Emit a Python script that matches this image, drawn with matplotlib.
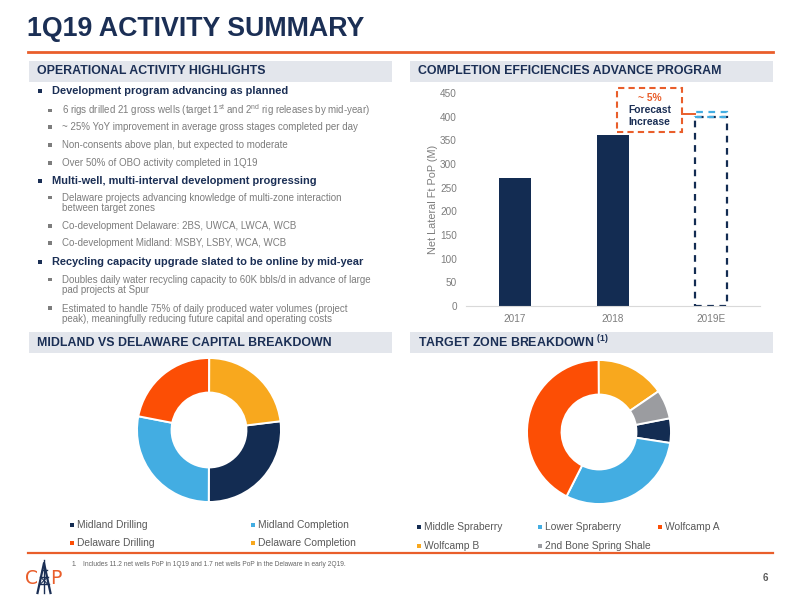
import matplotlib
matplotlib.use("Agg")
import matplotlib.pyplot as plt
from matplotlib.patches import Rectangle
from matplotlib.lines import Line2D

plt.rcParams["font.family"] = ["Liberation Sans", "DejaVu Sans"]
plt.rcParams["mathtext.fontset"] = "custom"
plt.rcParams["mathtext.rm"] = "Liberation Sans"
plt.rcParams["mathtext.bf"] = "Liberation Sans:bold"

NAVY = "#132c52"
NAVY_TXT = "#1b2f55"
LBLUE = "#43ade2"
ORANGE = "#fc4e05"
YELLOW = "#f8a81e"
GREY = "#9b9ca0"
LINE_OR = "#e95e2b"
HDR_BG = "#e3e6ec"
TXT_GREY = "#7d7d7d"

# ── Data ──────────────────────────────────────────────────────────────────────
years = ["2017", "2018", "2019E"]
lateral_ft = [271, 362, 400]          # Net Lateral Ft PoP (M)
forecast_extra = [0, 0, 10]           # ~5% forecast increase on top of 2019E
forecast_pct = "~ 5%"

capital_labels = ["Midland Drilling", "Midland Completion",
                  "Delaware Drilling", "Delaware Completion"]
capital_share = [27, 28, 22, 23]
capital_colors = [NAVY, LBLUE, ORANGE, YELLOW]

zone_labels = ["Middle Spraberry", "Lower Spraberry", "Wolfcamp A",
               "Wolfcamp B", "2nd Bone Spring Shale"]
zone_share = [5.5, 30, 42.5, 15.5, 6.5]
zone_colors = [NAVY, LBLUE, ORANGE, YELLOW, GREY]

bullets = [
    (1, "Development program advancing as planned", 91),
    (2, r"6 rigs drilled 21 gross wells (target 1$^{\rm st}$ and 2$^{\rm nd}$ rig releases by mid-year)", 110.5),
    (2, "~ 25% YoY improvement in average gross stages completed per day", 127),
    (2, "Non-consents above plan, but expected to moderate", 145),
    (2, "Over 50% of OBO activity completed in 1Q19", 163),
    (1, "Multi-well, multi-interval development progressing", 181),
    (2, "Delaware projects advancing knowledge of multi-zone interaction\nbetween target zones", 203),
    (2, "Co-development Delaware: 2BS, UWCA, LWCA, WCB", 226),
    (2, "Co-development Midland: MSBY, LSBY, WCA, WCB", 243),
    (1, "Recycling capacity upgrade slated to be online by mid-year", 262),
    (2, "Doubles daily water recycling capacity to 60K bbls/d in advance of large\npad projects at Spur", 285),
    (2, "Estimated to handle 75% of daily produced water volumes (project\npeak), meaningfully reducing future capital and operating costs", 313.5),
]

W, H = 800, 600
fig = plt.figure(figsize=(8, 6), dpi=100)


def fx(x):
    return x / W


def fy(y):
    return 1 - y / H


def rect(x0, y0, x1, y1, **kw):
    fig.add_artist(Rectangle((fx(x0), fy(y1)), fx(x1) - fx(x0), fy(y0) - fy(y1),
                             transform=fig.transFigure, **kw))


def line(xs, ys, **kw):
    fig.add_artist(Line2D([fx(x) for x in xs], [fy(y) for y in ys],
                          transform=fig.transFigure, **kw))


# ── Title and frame ───────────────────────────────────────────────────────────
fig.text(fx(27), fy(29), "1Q19 ACTIVITY SUMMARY", fontsize=19.3, fontweight="bold",
         color=NAVY_TXT, va="center", ha="left")
line([28, 773], [52, 52], color=LINE_OR, lw=2)
line([28, 773], [553, 553], color=LINE_OR, lw=1.6)

headers = [
    (29, 61, 392, 82, "OPERATIONAL ACTIVITY HIGHLIGHTS"),
    (410, 61, 773, 82, "COMPLETION EFFICIENCIES ADVANCE PROGRAM"),
    (29, 332, 392, 353, "MIDLAND VS DELAWARE CAPITAL BREAKDOWN"),
    (410, 332, 773, 353, r"TARGET ZONE BREAKDOWN $^{\bf (1)}$"),
]
for x0, y0, x1, y1, txt in headers:
    rect(x0, y0, x1, y1, facecolor=HDR_BG, edgecolor="none")
    fig.text(fx(x0 + 8), fy((y0 + y1) / 2), txt, fontsize=8.95, fontweight="bold",
             color=NAVY_TXT, va="center", ha="left")

# ── Bullet list ───────────────────────────────────────────────────────────────
for level, txt, y in bullets:
    if level == 1:
        rect(38, y - 2, 42, y + 2, facecolor=NAVY_TXT, edgecolor="none")
        fig.text(fx(52), fy(y), txt, fontsize=7.95, fontweight="bold", color=NAVY_TXT,
                 va="center", ha="left")
    else:
        first_line = y - 5.5 if "\n" in txt else y
        rect(48, first_line - 1.8, 51.6, first_line + 1.8, facecolor=TXT_GREY,
             edgecolor="none")
        fig.text(fx(62), fy(y), txt, fontsize=7.05, color=TXT_GREY, va="center",
                 ha="left", linespacing=1.0)

# ── Bar chart ─────────────────────────────────────────────────────────────────
ax = fig.add_axes([fx(466), fy(306), fx(760) - fx(466), fy(93) - fy(306)])
xpos = list(range(len(years)))
bw = 0.32
ax.bar(xpos[:2], lateral_ft[:2], width=bw, color=NAVY)
ax.bar(xpos[2], lateral_ft[2], width=bw, fill=False, edgecolor=NAVY,
       linestyle=(0, (3, 2.5)), linewidth=1.6)
ax.bar(xpos[2], forecast_extra[2], bottom=lateral_ft[2], width=bw, fill=False,
       edgecolor=LBLUE, linestyle=(0, (3, 2.5)), linewidth=1.6)
ax.set_xlim(-0.5, 2.5)
ax.set_ylim(0, 450)
ax.set_yticks(range(0, 451, 50))
ax.set_xticks(xpos)
ax.set_xticklabels(years)
ax.tick_params(length=0, labelsize=7.2, labelcolor=TXT_GREY, pad=6)
ax.tick_params(axis="y", pad=6.5)
for s in ["top", "right", "left"]:
    ax.spines[s].set_visible(False)
ax.spines["bottom"].set_color("#d9d9d9")
ax.set_ylabel("Net Lateral Ft PoP (M)", fontsize=7.8, color=TXT_GREY)
ax.yaxis.set_label_coords(-0.095, 0.5)

# forecast call-out box
rect(617, 88, 682, 132, facecolor="white", edgecolor=LINE_OR, linestyle=(0, (3, 2)),
     linewidth=1.5)
fig.text(fx(649.5), fy(98), forecast_pct, fontsize=7.4, fontweight="bold", color=LINE_OR,
         ha="center", va="center")
fig.text(fx(649.5), fy(110), "Forecast", fontsize=7.4, fontweight="bold", color=NAVY_TXT,
         ha="center", va="center")
fig.text(fx(649.5), fy(122), "Increase", fontsize=7.4, fontweight="bold", color=NAVY_TXT,
         ha="center", va="center")
line([682, 695], [114, 114], color=LINE_OR, lw=1.4)

# ── Donuts ────────────────────────────────────────────────────────────────────
R = 72


def donut(cx, cy, vals, cols, start):
    a = fig.add_axes([fx(cx - R), fy(cy + R), 2 * R / W, 2 * R / H])
    a.pie(vals, colors=cols, startangle=start, counterclock=False,
          wedgeprops=dict(width=0.48, edgecolor="white", linewidth=1.4))
    a.set_xlim(-1, 1)
    a.set_ylim(-1, 1)
    a.set_aspect("equal")
    a.axis("off")


donut(209, 430, capital_share, capital_colors, 7)
donut(599, 432, zone_share, zone_colors, 11)


def legend(labels, cols, x_marks, y_rows, ncol):
    for i, (lab, c) in enumerate(zip(labels, cols)):
        r, k = divmod(i, ncol)
        xm, yr = x_marks[k], y_rows[r]
        rect(xm - 2, yr - 2, xm + 2, yr + 2, facecolor=c, edgecolor="none")
        fig.text(fx(xm + 5), fy(yr), lab, fontsize=7.4, color="#595959", va="center",
                 ha="left")


legend(capital_labels, capital_colors, [72, 253], [525, 543], 2)
legend(zone_labels, zone_colors, [419, 540, 660], [527, 546], 3)

# ── Footer ────────────────────────────────────────────────────────────────────
fig.text(fx(72), fy(565), "1.", fontsize=4.8, color="#666666", va="center")
fig.text(fx(83), fy(565),
         "Includes 11.2 net wells PoP in 1Q19 and 1.7 net wells PoP in the Delaware in early 2Q19.",
         fontsize=4.8, color="#666666", va="center")
fig.text(fx(765), fy(578), "6", fontsize=7, fontweight="bold", color="#595959",
         ha="center", va="center")

# logo: orange C and P around a navy derrick
fig.text(fx(31), fy(578), "C", fontsize=13.5, color=LINE_OR, ha="center", va="center",
         family="Liberation Sans Narrow")
fig.text(fx(55.5), fy(578), "P", fontsize=13.5, color=LINE_OR, ha="center", va="center",
         family="Liberation Sans Narrow")
line([37.5, 44, 50.5], [593, 563, 593], color=NAVY_TXT, lw=1.6)
line([44, 44], [560, 593], color=NAVY_TXT, lw=1.0)
for yy, half in [(570, 2.5), (577, 4), (584, 5.2)]:
    line([44 - half, 44 + half], [yy, yy], color=NAVY_TXT, lw=1.0)
line([40.5, 47.5], [577, 584], color=NAVY_TXT, lw=0.8)
line([47.5, 40.5], [577, 584], color=NAVY_TXT, lw=0.8)

fig.savefig("out.png", dpi=100)
